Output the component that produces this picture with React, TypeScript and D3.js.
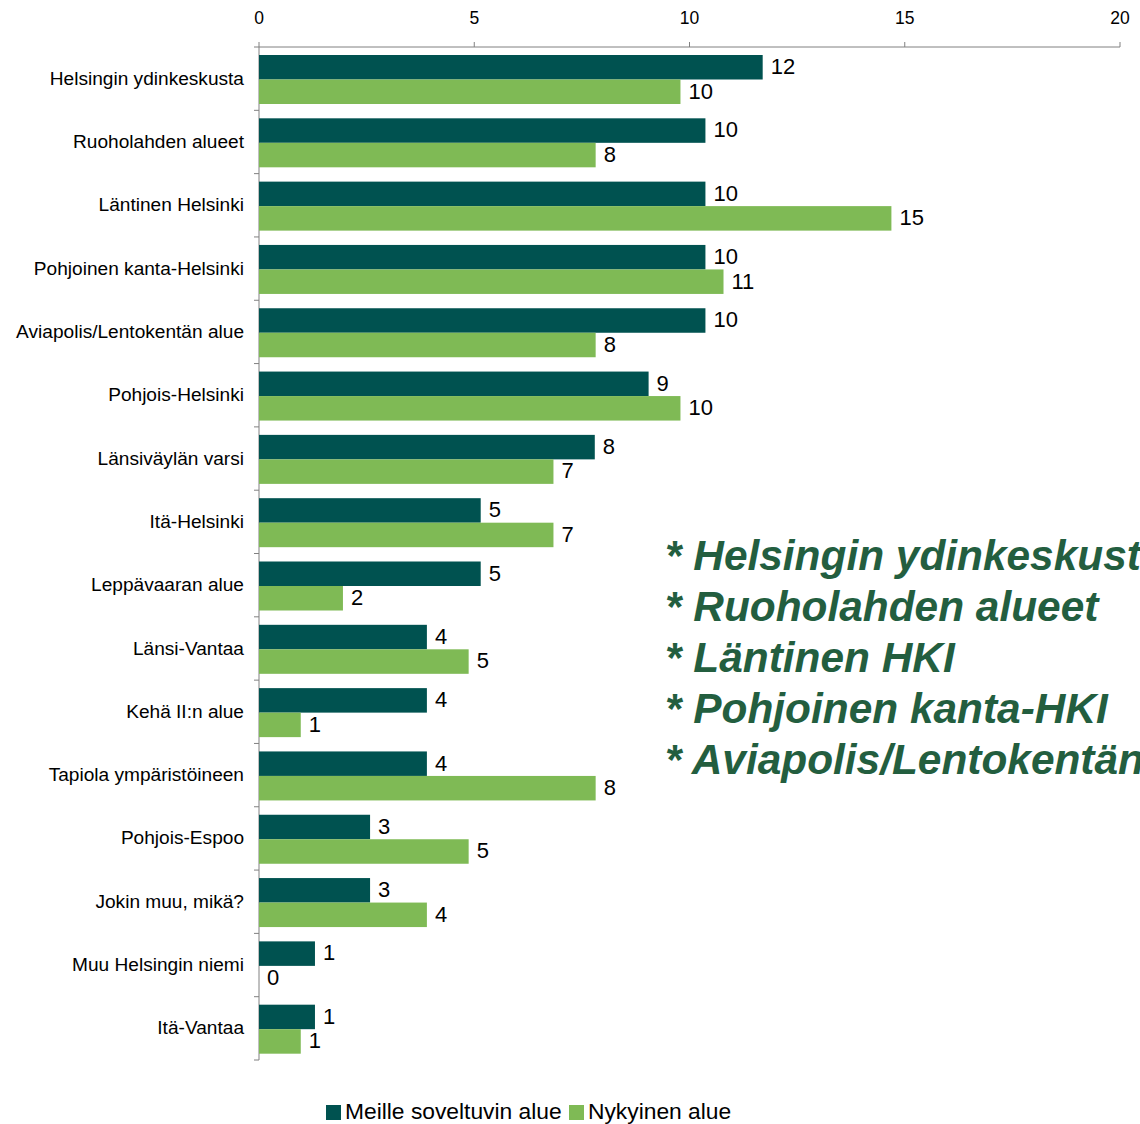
import React from "react";
import * as d3 from "d3";

const categories = [
  "Helsingin ydinkeskusta",
  "Ruoholahden alueet",
  "Läntinen Helsinki",
  "Pohjoinen kanta-Helsinki",
  "Aviapolis/Lentokentän alue",
  "Pohjois-Helsinki",
  "Länsiväylän varsi",
  "Itä-Helsinki",
  "Leppävaaran alue",
  "Länsi-Vantaa",
  "Kehä II:n alue",
  "Tapiola ympäristöineen",
  "Pohjois-Espoo",
  "Jokin muu, mikä?",
  "Muu Helsingin niemi",
  "Itä-Vantaa",
];
const seriesNames = ["Meille soveltuvin alue", "Nykyinen alue"];
const suitable = [11.7, 10.37, 10.37, 10.37, 10.37, 9.05, 7.8, 5.15, 5.15, 3.9, 3.9, 3.9, 2.58, 2.58, 1.3, 1.3];
const current = [9.79, 7.82, 14.69, 10.79, 7.82, 9.79, 6.84, 6.84, 1.95, 4.87, 0.97, 7.82, 4.87, 3.9, 0, 0.97];
const xTicks = [0, 5, 10, 15, 20];
const notes = [
  "* Helsingin ydinkeskusta",
  "* Ruoholahden alueet",
  "* Läntinen HKI",
  "* Pohjoinen kanta-HKI",
  "* Aviapolis/Lentokentän alue",
];

const W = 1140;
const H = 1124;
const colors = ["#005250", "#7FBA55"];
const font = "'Liberation Sans', Arial, sans-serif";

export default function App() {
  const x = d3.scaleLinear().domain([0, 20]).range([259, 1120]);
  const y = d3.scaleBand<string>().domain(categories).range([47, 1060]);
  const step = y.step();
  const barOff = 8;
  const barH = 24.5;
  const values = [suitable, current];
  const axisY = 47;

  return (
    <svg width={W} height={H} style={{ position: "absolute", left: 0, top: 0, background: "#fff" }} fontFamily={font}>
      {/* top axis */}
      <line x1={x(0)} x2={x(20)} y1={axisY} y2={axisY} stroke="#808080" strokeWidth={1} />
      {xTicks.map((t) => (
        <g key={t}>
          <line x1={x(t)} x2={x(t)} y1={axisY - 5} y2={axisY} stroke="#808080" />
          <text x={x(t)} y={24} textAnchor="middle" fontSize={17.5} fill="#000">
            {t}
          </text>
        </g>
      ))}
      {/* left axis */}
      <line x1={x(0)} x2={x(0)} y1={axisY} y2={1060} stroke="#808080" />
      {d3.range(categories.length + 1).map((i) => (
        <line key={i} x1={x(0) - 5} x2={x(0)} y1={47 + i * step} y2={47 + i * step} stroke="#808080" />
      ))}
      {categories.map((c, i) => (
        <g key={c}>
          <text x={244} y={(y(c) as number) + step / 2 + 1} textAnchor="end" fontSize={19.1} dominantBaseline="middle" fill="#000">
            {c}
          </text>
          {values.map((vals, s) => {
            const by = (y(c) as number) + barOff + s * barH;
            const v = vals[i];
            return (
              <g key={s}>
                {v > 0 && (
                  <rect x={x(0)} y={by} width={x(v) - x(0)} height={barH} fill={colors[s]} />
                )}
                <text x={x(v) + 8} y={by + barH / 2 + 1} fontSize={22} dominantBaseline="middle" fill="#000">
                  {Math.round(v)}
                </text>
              </g>
            );
          })}
        </g>
      ))}
      {/* annotation (cut at the right edge, as in the original) */}
      {notes.map((n, i) => (
        <text
          key={n}
          x={665}
          y={570 + i * 51}
          fontSize={42.4}
          fontWeight="bold"
          fontStyle="italic"
          fill="#235E3F"
        >
          {n}
        </text>
      ))}
      {/* legend */}
      <rect x={326} y={1105} width={15} height={15} fill={colors[0]} />
      <text x={345} y={1113} fontSize={22.8} dominantBaseline="middle" fill="#000">
        {seriesNames[0]}
      </text>
      <rect x={569} y={1105} width={15} height={15} fill={colors[1]} />
      <text x={588} y={1113} fontSize={22.8} dominantBaseline="middle" fill="#000">
        {seriesNames[1]}
      </text>
    </svg>
  );
}
